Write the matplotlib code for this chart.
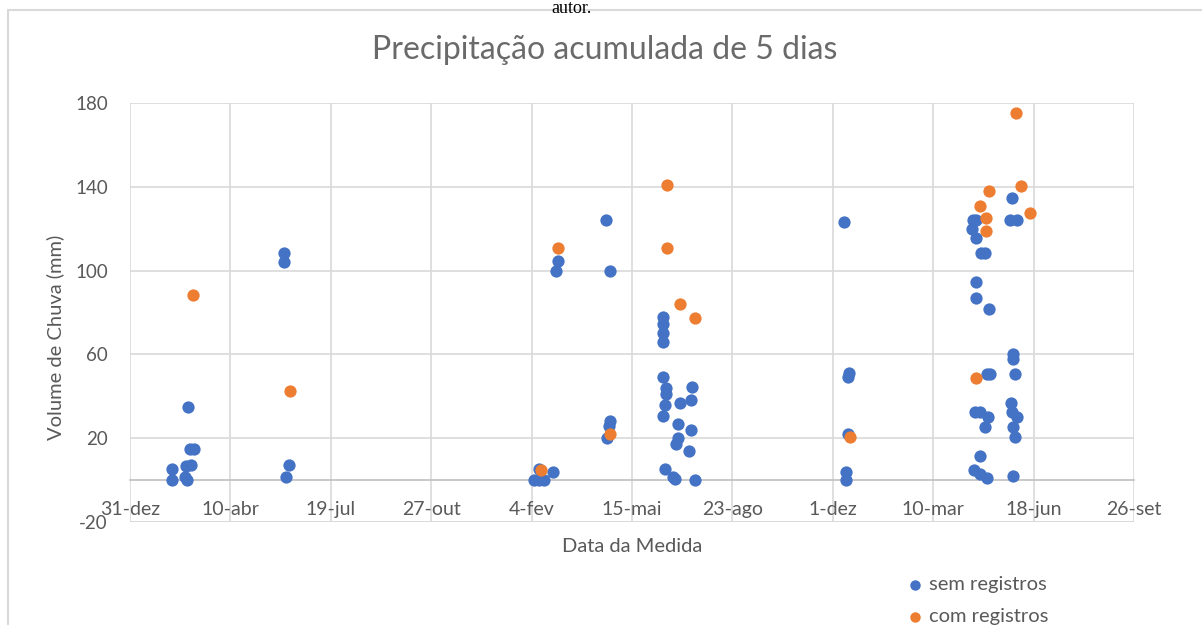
"""Precipitação acumulada de 5 dias — scatter em estilo Excel."""

import matplotlib
matplotlib.use("Agg")
import matplotlib.pyplot as plt
import matplotlib.dates as mdates
from matplotlib.patches import Rectangle
from matplotlib.ticker import FuncFormatter
import numpy as np

BLUE = "#4472C4"
ORANGE = "#ED7D31"
GRID = "#D9D9D9"
TEXT = "#595959"

MESES = ["jan", "fev", "mar", "abr", "mai", "jun",
         "jul", "ago", "set", "out", "nov", "dez"]

# sem registros
sem_datas = [
    "2018-02-11", "2018-02-11", "2018-02-24", "2018-02-26", "2018-02-25",
    "2018-03-02", "2018-02-27", "2018-03-01", "2018-03-05",
    "2018-06-02", "2018-06-02", "2018-06-07", "2018-06-04",
    "2019-02-06", "2019-02-11", "2019-02-11", "2019-02-16", "2019-02-25",
    "2019-02-28", "2019-03-02",
    "2019-04-19", "2019-04-23", "2019-04-23", "2019-04-22", "2019-04-20",
    "2019-06-15", "2019-06-15", "2019-06-15", "2019-06-15", "2019-06-15",
    "2019-06-15", "2019-06-17", "2019-06-17", "2019-06-18", "2019-06-18",
    "2019-06-25", "2019-06-27", "2019-06-30", "2019-06-30", "2019-07-02",
    "2019-06-28", "2019-07-13", "2019-07-13", "2019-07-14", "2019-07-11",
    "2019-07-17",
    "2019-12-12", "2019-12-17", "2019-12-16", "2019-12-16", "2019-12-14",
    "2019-12-14",
    "2020-04-19", "2020-04-18", "2020-04-22", "2020-04-22", "2020-04-22",
    "2020-04-22", "2020-04-27", "2020-05-01", "2020-05-05", "2020-05-03",
    "2020-05-06", "2020-04-21", "2020-04-26", "2020-05-04", "2020-05-01",
    "2020-04-26", "2020-04-20", "2020-04-26", "2020-05-03",
    "2020-05-27", "2020-05-25", "2020-06-01", "2020-05-28", "2020-05-28",
    "2020-05-30", "2020-05-26", "2020-05-27", "2020-06-01", "2020-05-28",
    "2020-05-30", "2020-05-28",
]
sem_valores = [
    5.5, 0, 1.5, 0, 6.5,
    7, 35, 15, 15,
    108.5, 104, 7, 1.5,
    0, 0, 5.5, 0, 4,
    100, 104.5,
    124, 100, 28, 26, 20,
    78, 74.5, 70, 66, 49,
    30.5, 36, 5.5, 44, 41,
    1.5, 0.5, 27, 20, 37,
    17, 38, 24, 44.5, 14,
    0,
    123, 51, 49, 22, 4,
    0,
    124, 120, 124, 115.5, 94.5,
    87, 108.5, 108.5, 81.5, 50.5,
    50.5, 32.5, 32.5, 30, 25.5,
    11.5, 5, 3, 1,
    134.5, 124, 124, 60, 58,
    50.5, 37, 32.5, 30, 25.5,
    20.5, 2,
]

# com registros
com_datas = [
    "2018-03-04", "2018-06-08",
    "2019-02-13", "2019-03-02", "2019-04-23",
    "2019-06-19", "2019-06-19", "2019-07-02", "2019-07-17",
    "2019-12-18",
    "2020-05-05", "2020-04-26", "2020-05-02", "2020-05-02", "2020-04-22",
    "2020-05-31", "2020-06-05", "2020-06-14",
]
com_valores = [
    88.5, 42.5,
    5, 111, 22,
    141, 111, 84, 77.5,
    20.5,
    138, 131, 125, 119, 48.5,
    175, 140.5, 127.5,
]

x_ticks = np.arange(np.datetime64("2017-12-31"), np.datetime64("2020-10-01"),
                    np.timedelta64(100, "D"))
y_ticks = [-20, 20, 60, 100, 140, 180]


def fmt_data(x, pos):
    d = mdates.num2date(x)
    return f"{d.day}-{MESES[d.month - 1]}"


def main():
    plt.rcParams["font.family"] = ["Lato", "DejaVu Sans"]
    plt.rcParams["axes.unicode_minus"] = False

    fig = plt.figure(figsize=(12.02, 6.25), dpi=100)
    ax = fig.add_axes([130 / 1202, 1 - 522 / 625, 1004 / 1202, 419 / 625])

    ax.scatter(np.array(sem_datas, dtype="datetime64[D]"), sem_valores,
               s=78, color=BLUE, linewidths=0, zorder=3, label="sem registros")
    ax.scatter(np.array(com_datas, dtype="datetime64[D]"), com_valores,
               s=78, color=ORANGE, linewidths=0, zorder=4, label="com registros")

    ax.set_xlim(x_ticks[0], x_ticks[-1])
    ax.set_ylim(-20, 180)
    ax.set_xticks(x_ticks)
    ax.xaxis.set_major_formatter(FuncFormatter(fmt_data))
    ax.set_yticks(y_ticks)

    ax.grid(True, color=GRID, linewidth=1.2)
    ax.set_axisbelow(True)
    for s in ["top", "left", "right"]:
        ax.spines[s].set_visible(False)
    ax.spines["bottom"].set_position(("data", 0))
    ax.spines["bottom"].set_color("#BFBFBF")
    ax.spines["bottom"].set_linewidth(1.2)
    ax.axhline(-20, color=GRID, linewidth=1.2, zorder=1)

    ax.tick_params(axis="x", length=0, pad=15, labelsize=14, labelcolor=TEXT)
    ax.tick_params(axis="y", length=0, pad=16, labelsize=13.5, labelcolor=TEXT)

    fig.text(605 / 1202, 1 - 50 / 625, "Precipitação acumulada de 5 dias",
             ha="center", va="center", fontsize=23, color="#6A6A6A")
    fig.text(632 / 1202, 1 - 546 / 625, "Data da Medida",
             ha="center", va="center", fontsize=14.5, color=TEXT)
    fig.text(55 / 1202, 1 - 337 / 625, "Volume de Chuva (mm)",
             ha="center", va="center", rotation=90, fontsize=14.5, color=TEXT)

    fig.legend(loc="upper left", bbox_to_anchor=(907 / 1202, 1 - 576 / 625),
               frameon=False, fontsize=14.5, labelcolor=TEXT,
               handlelength=0.8, handletextpad=0.3, labelspacing=0.75,
               borderpad=0, borderaxespad=0, markerscale=0.85)

    # moldura do gráfico e legenda da figura acima
    fig.patches.append(Rectangle((8 / 1202, -0.1), 1.2, 1.1 - 10 / 625,
                                 transform=fig.transFigure, fill=False,
                                 edgecolor=GRID, linewidth=1.5))
    fig.text(572 / 1202, 1.0, "autor.", ha="center", va="top",
             fontsize=13, family="Liberation Serif", color="black")

    fig.savefig("out.png", dpi=100, facecolor="white")
    plt.close(fig)


if __name__ == "__main__":
    main()
